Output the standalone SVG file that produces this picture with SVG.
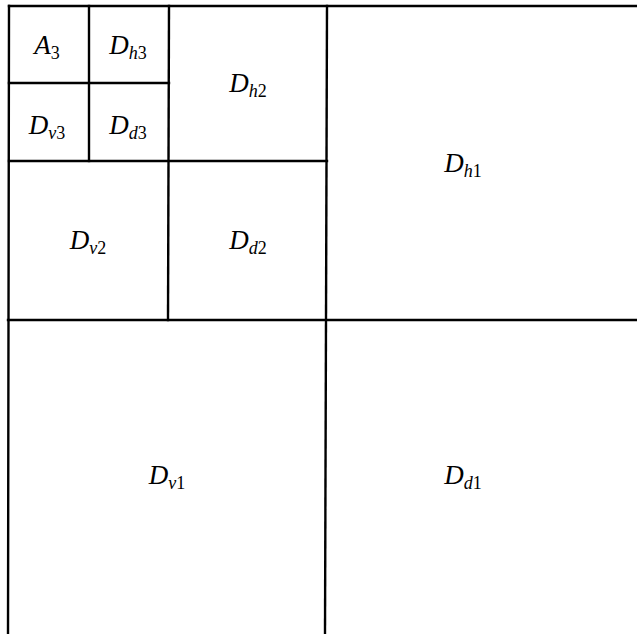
<svg xmlns="http://www.w3.org/2000/svg" width="637" height="634" viewBox="0 0 637 634">
<style>
.ln{stroke:#000;stroke-width:2.4;fill:none;stroke-linecap:square}
.lb{font-family:"Liberation Serif","DejaVu Serif",serif;font-size:27px;font-style:italic;fill:#000;text-anchor:middle}
.sb{font-size:18px}
.n{font-style:normal}
</style>
<rect width="637" height="634" fill="#fff"/>
<g id="grid">
<line class="ln" x1="9" y1="6" x2="637" y2="6"/>
<line class="ln" x1="9" y1="6" x2="8" y2="634"/>
<line class="ln" x1="327" y1="6" x2="325" y2="634"/>
<line class="ln" x1="8" y1="320" x2="637" y2="320"/>
<line class="ln" x1="169" y1="6" x2="168" y2="320"/>
<line class="ln" x1="9" y1="161" x2="327" y2="161"/>
<line class="ln" x1="89" y1="6" x2="89" y2="161"/>
<line class="ln" x1="9" y1="83" x2="169" y2="83"/>
</g>
<g id="A3"><text class="lb" x="47" y="54">A<tspan class="sb n" dy="5">3</tspan></text></g>
<g id="Dh3"><text class="lb" x="128" y="54">D<tspan class="sb" dy="5">h</tspan><tspan class="sb n">3</tspan></text></g>
<g id="Dv3"><text class="lb" x="47" y="134">D<tspan class="sb" dy="5">v</tspan><tspan class="sb n">3</tspan></text></g>
<g id="Dd3"><text class="lb" x="128" y="134">D<tspan class="sb" dy="5">d</tspan><tspan class="sb n">3</tspan></text></g>
<g id="Dh2"><text class="lb" x="248" y="92">D<tspan class="sb" dy="5">h</tspan><tspan class="sb n">2</tspan></text></g>
<g id="Dv2"><text class="lb" x="88" y="249">D<tspan class="sb" dy="5">v</tspan><tspan class="sb n">2</tspan></text></g>
<g id="Dd2"><text class="lb" x="248" y="249">D<tspan class="sb" dy="5">d</tspan><tspan class="sb n">2</tspan></text></g>
<g id="Dh1"><text class="lb" x="463" y="172">D<tspan class="sb" dy="5">h</tspan><tspan class="sb n">1</tspan></text></g>
<g id="Dv1"><text class="lb" x="167" y="484">D<tspan class="sb" dy="5">v</tspan><tspan class="sb n">1</tspan></text></g>
<g id="Dd1"><text class="lb" x="463" y="484">D<tspan class="sb" dy="5">d</tspan><tspan class="sb n">1</tspan></text></g>
</svg>
